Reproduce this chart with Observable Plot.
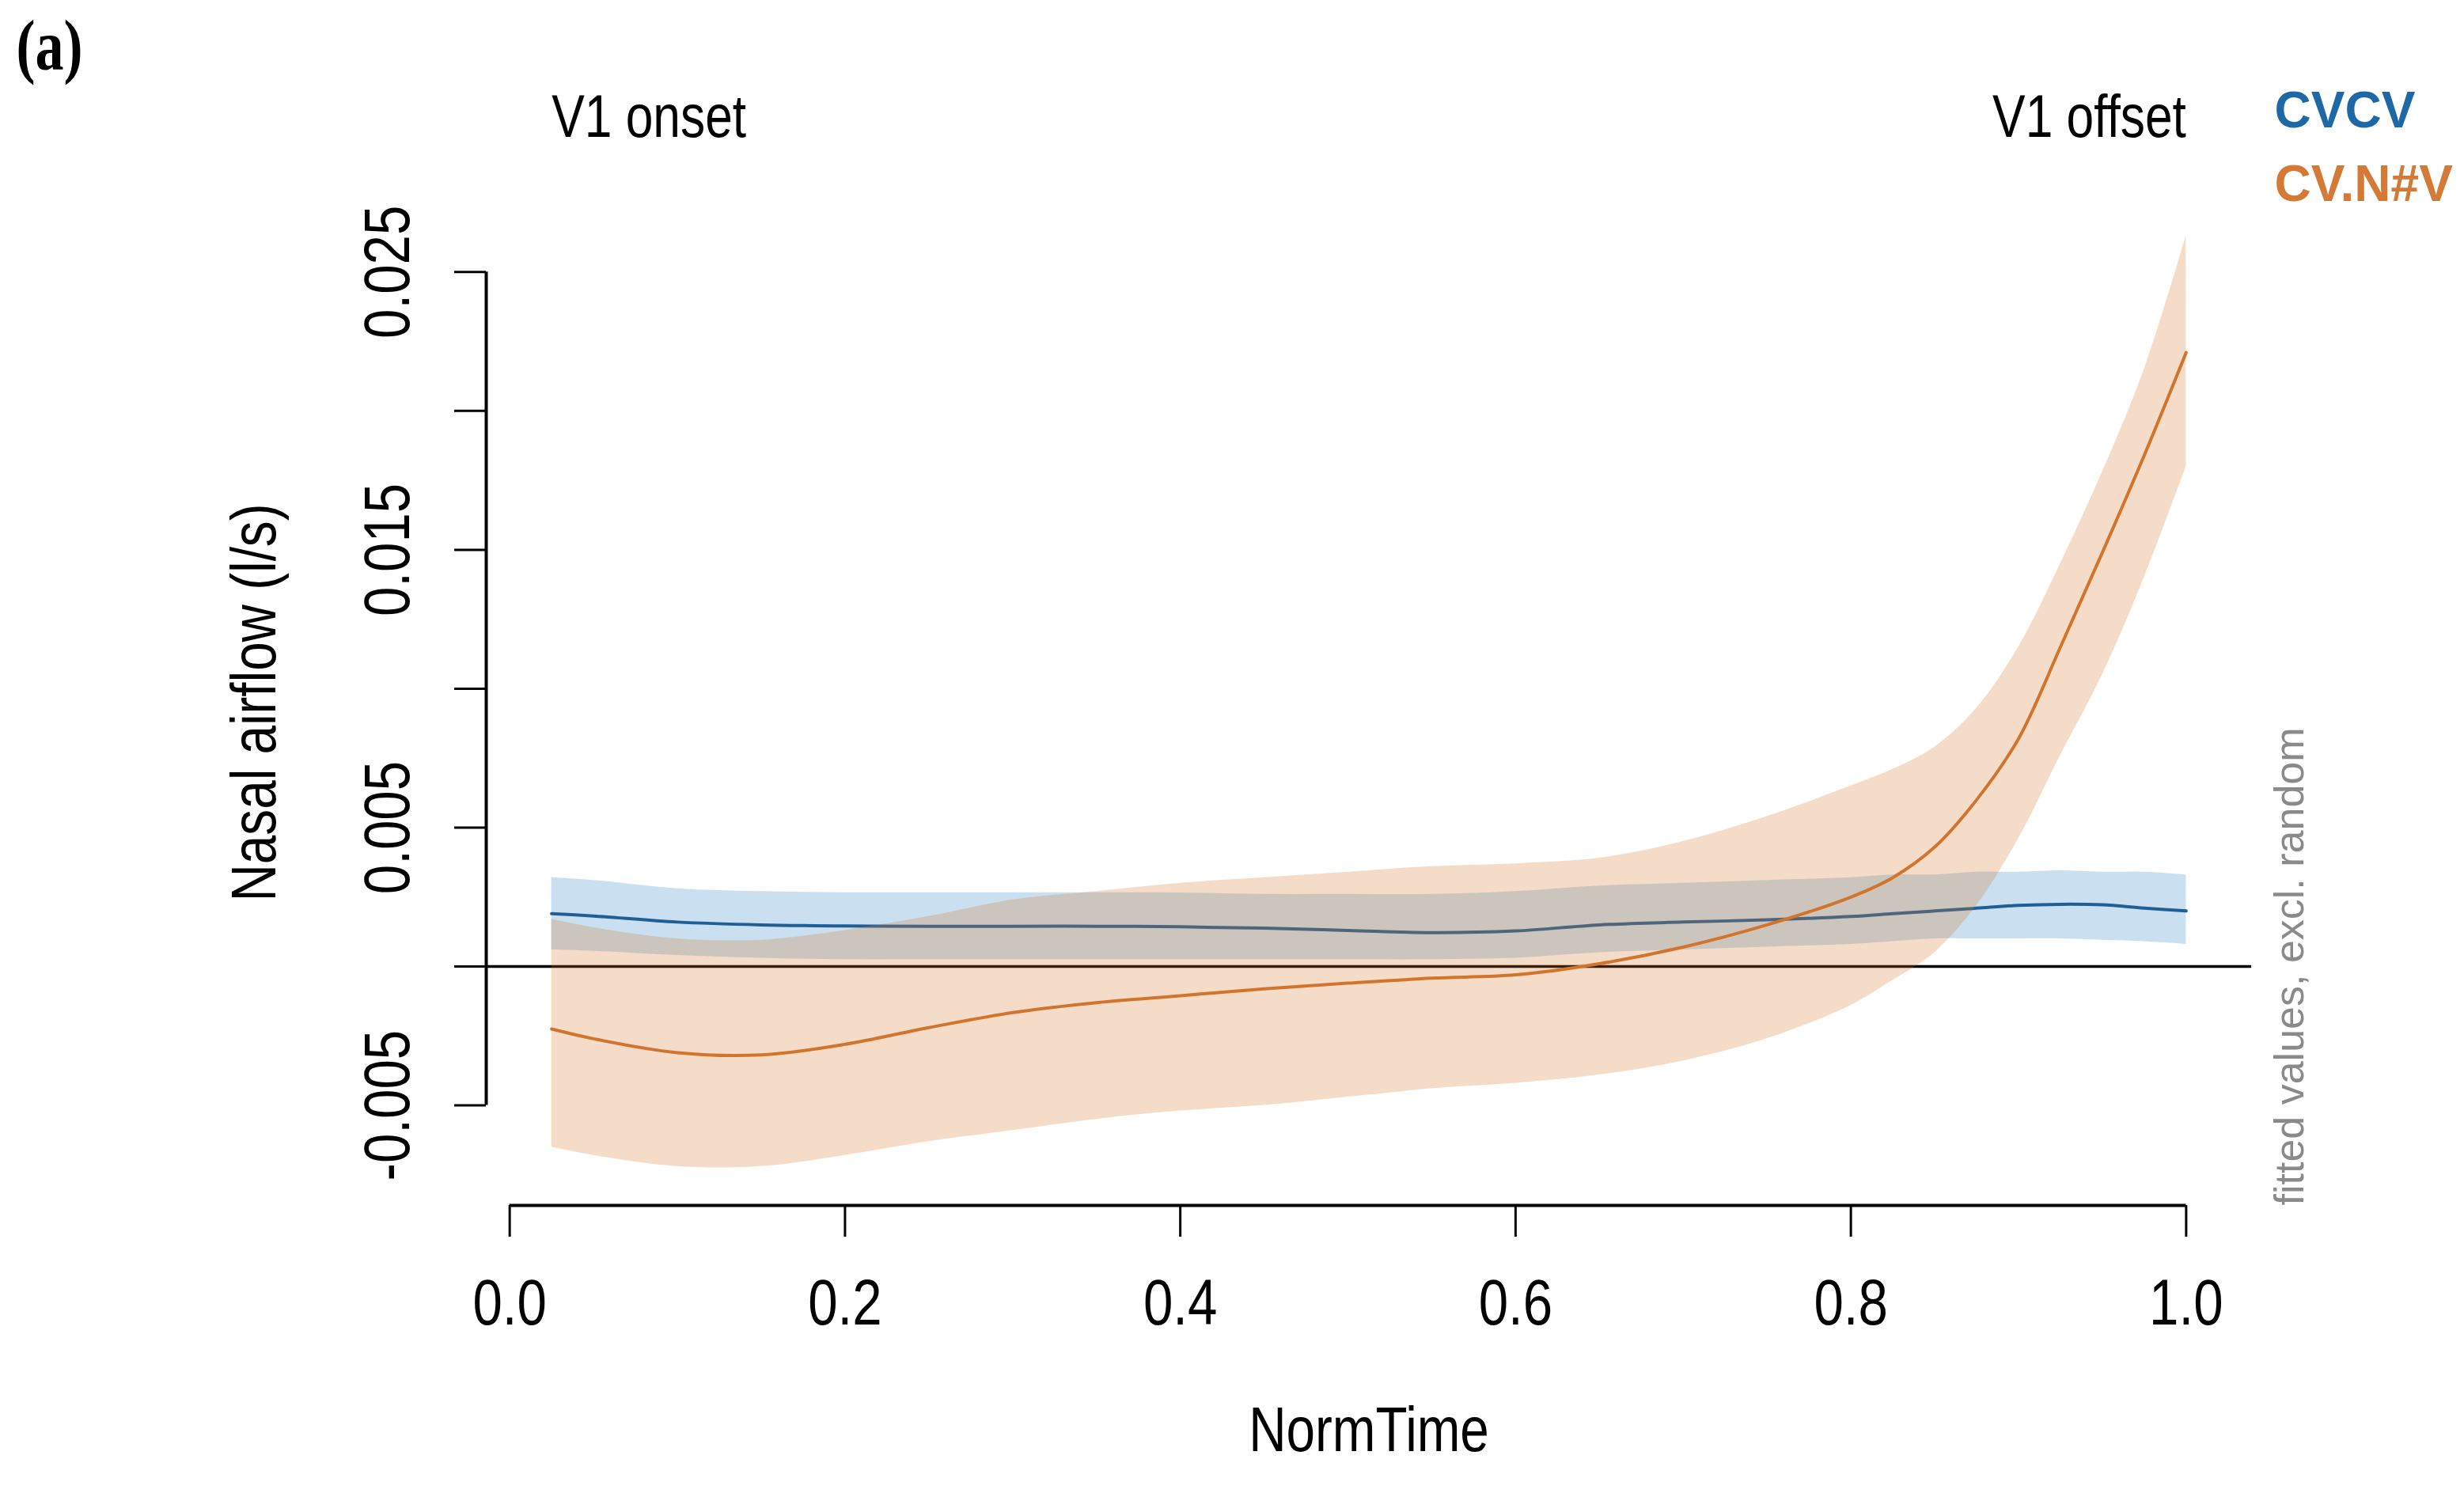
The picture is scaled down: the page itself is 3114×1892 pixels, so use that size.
<!DOCTYPE html>
<html>
<head>
<meta charset="utf-8">
<script src="https://cdn.jsdelivr.net/npm/d3@7"></script>
<script src="https://cdn.jsdelivr.net/npm/@observablehq/plot@0.6"></script>
<style>
  html, body { margin: 0; padding: 0; background: #ffffff; }
  #chart svg { display: block; }
</style>
</head>
<body>
<div id="chart"></div>
<script>
// ---- data ----
const normTime = [0.025, 0.05, 0.1, 0.15, 0.2, 0.25, 0.3, 0.35, 0.4, 0.45, 0.5, 0.55, 0.6, 0.65, 0.7, 0.75, 0.8, 0.825, 0.85, 0.875, 0.9, 0.925, 0.95, 0.975, 1.0];

const cvcvFit   = [0.0019, 0.00182, 0.0016, 0.0015, 0.00146, 0.00145, 0.00145, 0.00145, 0.00143, 0.00138, 0.0013, 0.00122, 0.00128, 0.0015, 0.0016, 0.00168, 0.0018, 0.0019, 0.002, 0.0021, 0.0022, 0.00224, 0.00222, 0.0021, 0.002];
const cvcvUpper = [0.0032, 0.0031, 0.0028, 0.0027, 0.00266, 0.00266, 0.00266, 0.00266, 0.00265, 0.0026, 0.0026, 0.0026, 0.0027, 0.0029, 0.003, 0.0031, 0.0032, 0.0033, 0.0033, 0.0034, 0.0034, 0.00345, 0.0034, 0.0034, 0.0033];
const cvcvLower = [0.0006, 0.00055, 0.0004, 0.0003, 0.00025, 0.00025, 0.00025, 0.00025, 0.00025, 0.00025, 0.00025, 0.00025, 0.0003, 0.0005, 0.0006, 0.0007, 0.0008, 0.0009, 0.001, 0.001, 0.001, 0.001, 0.00095, 0.0009, 0.0008];

const cvnvFit   = [-0.00225, -0.0026, -0.0031, -0.00318, -0.0028, -0.0022, -0.00166, -0.0013, -0.00105, -0.0008, -0.0006, -0.00042, -0.0003, 0.0001, 0.0007, 0.0015, 0.0025, 0.0032, 0.0043, 0.006, 0.0082, 0.0115, 0.0149, 0.0184, 0.0221];
const cvnvUpper = [0.0017, 0.0014, 0.001, 0.00095, 0.0013, 0.0018, 0.0024, 0.0027, 0.003, 0.0032, 0.0034, 0.0036, 0.0037, 0.0039, 0.0045, 0.0054, 0.0065, 0.0071, 0.0079, 0.0093, 0.0115, 0.0145, 0.0178, 0.0215, 0.0263];
const cvnvLower = [-0.0065, -0.0068, -0.0072, -0.0072, -0.0068, -0.0063, -0.0059, -0.0055, -0.0052, -0.005, -0.0047, -0.0044, -0.0042, -0.0039, -0.0034, -0.0026, -0.0014, -0.0005, 0.0005, 0.0022, 0.0046, 0.0076, 0.0105, 0.014, 0.018];

const xTicks = [0, 0.2, 0.4, 0.6, 0.8, 1.0];
const yTicks = [-0.005, 0, 0.005, 0.01, 0.015, 0.02, 0.025];
const yLabelTicks = [-0.005, 0.005, 0.015, 0.025];
const xDomain = [-0.014, 1.039];
const yDomain = [-0.0086, 0.0276];

const seriesNames = ["CVCV", "CV.N#V"];
const seriesColors = ["#1e68a6", "#d47a36"];

// ---- tables built from the arrays ----
const cvcv = normTime.map((t, i) => ({t, fit: cvcvFit[i], lo: cvcvLower[i], hi: cvcvUpper[i]}));
const cvnv = normTime.map((t, i) => ({t, fit: cvnvFit[i], lo: cvnvLower[i], hi: cvnvUpper[i]}));

const font = "'Liberation Sans', Arial, Helvetica, sans-serif";
const curve = "catmull-rom";
const fmtY = d => d3.format(".3f")(d).replace("\u2212", "-");
const fmtX = d => d3.format(".1f")(d);

const chart = Plot.plot({
  width: 3114,
  height: 1892,
  marginLeft: 614,
  marginRight: 269,
  marginTop: 252,
  marginBottom: 369,
  x: {domain: xDomain, axis: null},
  y: {domain: yDomain, axis: null},
  style: {fontFamily: font, background: "#ffffff", color: "#000000"},
  marks: [
    // CVCV band + line
    Plot.areaY(cvcv, {x: "t", y1: "lo", y2: "hi", fill: "#2a85c8", fillOpacity: 0.25, curve}),
    Plot.line(cvcv, {x: "t", y: "fit", stroke: "#1f5f96", strokeWidth: 4, curve}),
    // zero reference line
    Plot.ruleY([0], {x1: xDomain[0], x2: xDomain[1], stroke: "#000000", strokeWidth: 3.5}),
    // CV.N#V band + line
    Plot.areaY(cvnv, {x: "t", y1: "lo", y2: "hi", fill: "#d47630", fillOpacity: 0.26, curve}),
    Plot.line(cvnv, {x: "t", y: "fit", stroke: "#d2742c", strokeWidth: 4, curve}),

    // y axis (R style, offset)
    Plot.ruleX([xDomain[0]], {y1: yTicks[0], y2: yTicks[yTicks.length - 1], stroke: "#000000", strokeWidth: 4}),
    Plot.axisY({ticks: yTicks, tickSize: 40, tickFormat: () => "", strokeWidth: 3, label: null}),
    Plot.text(yLabelTicks, {
      x: xDomain[0], y: d => d, text: fmtY,
      rotate: -90, dx: -124, fontSize: 82, fill: "#000000"
    }),
    Plot.text(["Nasal airflow (l/s)"], {frameAnchor: "left", textAnchor: "middle", dx: -292, rotate: -90, fontSize: 80, fill: "#000000"}),

    // x axis
    Plot.ruleY([yDomain[0]], {x1: xTicks[0], x2: xTicks[xTicks.length - 1], stroke: "#000000", strokeWidth: 4}),
    Plot.axisX({ticks: xTicks, tickSize: 40, tickFormat: () => "", strokeWidth: 3, label: null}),
    Plot.text(xTicks, {x: d => d, frameAnchor: "bottom", dy: 150, text: fmtX, fontSize: 82, fill: "#000000"}),
    Plot.text(["NormTime"], {frameAnchor: "bottom", textAnchor: "middle", dy: 310, fontSize: 80, fill: "#000000"}),

    // top annotations
    Plot.text(["V1 onset"], {x: normTime[0], frameAnchor: "top", dy: -133, textAnchor: "start", fontSize: 76, fill: "#000000"}),
    Plot.text(["V1 offset"], {x: normTime[normTime.length - 1], frameAnchor: "top", dy: -133, textAnchor: "end", fontSize: 76, fill: "#000000"}),

    // legend
    Plot.text([seriesNames[0]], {frameAnchor: "top-right", dx: 29, dy: -137, textAnchor: "start", fontSize: 64, fontWeight: "bold", fill: seriesColors[0]}),
    Plot.text([seriesNames[1]], {frameAnchor: "top-right", dx: 29, dy: -44, textAnchor: "start", fontSize: 64, fontWeight: "bold", fill: seriesColors[1]}),

    // side note
    Plot.text(["fitted values, excl. random"], {frameAnchor: "bottom-right", dx: 65, rotate: -90, textAnchor: "start", fontSize: 52, fill: "#8a8a8a"}),

    // panel letter
    Plot.text(["(a)"], {frameAnchor: "top-left", dx: -594, dy: -228, textAnchor: "start", fontSize: 90, fontWeight: "bold", fontFamily: "'Liberation Serif', 'Times New Roman', serif", fill: "#000000"})
  ]
});

document.getElementById("chart").appendChild(chart);

// The reference uses a narrow Helvetica: compress the glyphs horizontally
// (legend and side note keep their natural width).
const keepWidth = new Set(["fitted values, excl. random", ...seriesNames]);
chart.querySelectorAll("text").forEach(el => {
  const s = el.textContent;
  if (!s || keepWidth.has(s)) return;
  const len = el.getComputedTextLength();
  if (len > 0) {
    const k = s === "(a)" ? 0.8 : 0.82;
    el.setAttribute("textLength", (len * k).toFixed(1));
    el.setAttribute("lengthAdjust", "spacingAndGlyphs");
  }
});
</script>
</body>
</html>
